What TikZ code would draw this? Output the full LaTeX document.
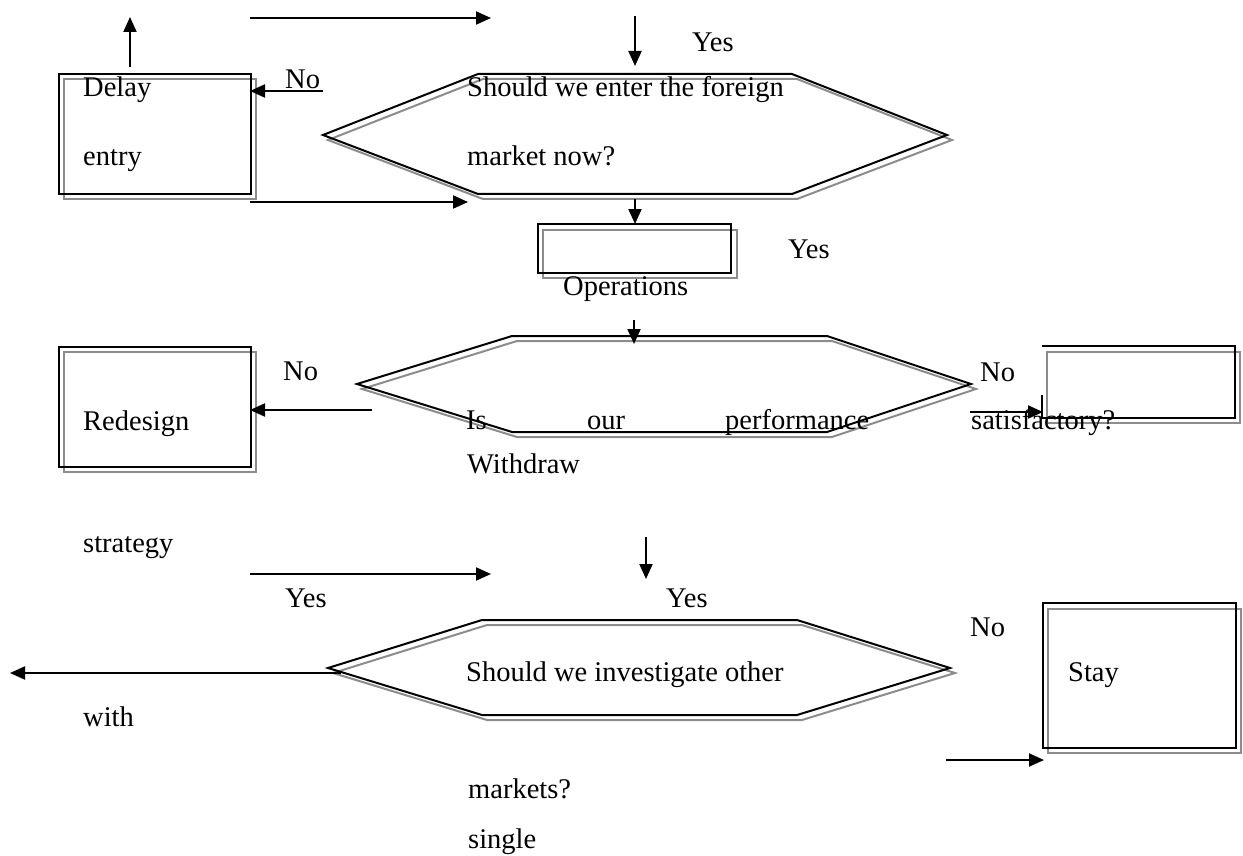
\documentclass[tikz,border=0pt]{standalone}
\usepackage{fontspec}
\setmainfont{Liberation Serif}
\usetikzlibrary{arrows.meta}
\begin{document}
\begin{tikzpicture}[x=1pt,y=-1pt,
  blk/.style={line width=2pt,draw=black},
  shd/.style={line width=2pt,draw=black!45},
  arr/.style={line width=2pt,-{Triangle[length=15pt,width=13pt]}},
  lbl/.style={anchor=base west,inner sep=0pt,font=\fontsize{28.5}{34}\selectfont}]
\useasboundingbox (0,0) rectangle (1243,856);

% ---------- box and hexagon shapes ----------
% Delay box
\draw[shd] (64,79) rectangle (256,199);
\draw[blk] (59,74) rectangle (251,194);
% hexagon 1
\draw[shd] (328,140) -- (483,79) -- (797,79) -- (952,140) -- (797,199) -- (483,199) -- cycle;
\draw[blk] (323,135) -- (478,74) -- (792,74) -- (947,135) -- (792,194) -- (478,194) -- cycle;
% Operations box
\draw[shd] (543,230) rectangle (737,278);
\draw[blk] (538,224) rectangle (731,273);
% Redesign box
\draw[shd] (64,352) rectangle (256,472);
\draw[blk] (59,347) rectangle (251,467);
% hexagon 2
\draw[shd] (362,389) -- (517,341) -- (832,341) -- (976,389) -- (832,437) -- (517,437) -- cycle;
\draw[blk] (357,384) -- (512,336) -- (827,336) -- (971,384) -- (827,432) -- (512,432) -- cycle;
% Withdraw box (partly open)
\draw[shd] (1047,352) rectangle (1240,423);
\draw[blk] (1042,395) -- (1042,418) -- (1235,418) -- (1235,346) -- (1042,346);
% hexagon 3
\draw[shd] (333,673) -- (487,625) -- (802,625) -- (955,673) -- (802,720) -- (487,720) -- cycle;
\draw[blk] (328,668) -- (482,620) -- (797,620) -- (950,668) -- (797,715) -- (482,715) -- cycle;
% Stay box
\draw[shd] (1048,609) rectangle (1241,753);
\draw[blk] (1043,603) rectangle (1236,748);

% ---------- arrow end points ----------
\coordinate (upA) at (130,67);   \coordinate (upB) at (130,17);
\coordinate (topA) at (250,18);  \coordinate (topB) at (491,18);
\coordinate (dnA) at (635,16);   \coordinate (dnB) at (635,66);
\coordinate (noA) at (323,91);   \coordinate (noB) at (250,91);
\coordinate (dlA) at (250,202);  \coordinate (dlB) at (468,202);
\coordinate (opA) at (635,199);  \coordinate (opB) at (635,224);
\coordinate (h2A) at (634,320);  \coordinate (h2B) at (634,344);
\coordinate (rdA) at (372,410);  \coordinate (rdB) at (250,410);
\coordinate (wdA) at (970,412);  \coordinate (wdB) at (1043,412);
\coordinate (stA) at (250,574);  \coordinate (stB) at (491,574);
\coordinate (d3A) at (646,537);  \coordinate (d3B) at (646,579);
\coordinate (lfA) at (341,673);  \coordinate (lfB) at (10,673);
\coordinate (syA) at (946,760);  \coordinate (syB) at (1044,760);

\draw[arr] (upA) -- (upB);
\draw[arr] (topA) -- (topB);
\draw[arr] (dnA) -- (dnB);
\draw[arr] (noA) -- (noB);
\draw[arr] (dlA) -- (dlB);
\draw[arr] (opA) -- (opB);
\draw[arr] (h2A) -- (h2B);
\draw[arr] (rdA) -- (rdB);
\draw[arr] (wdA) -- (wdB);
\draw[arr] (stA) -- (stB);
\draw[arr] (d3A) -- (d3B);
\draw[arr] (lfA) -- (lfB);
\draw[arr] (syA) -- (syB);

% ---------- texts ----------
\node[lbl] (tDelay) at (83,97) {Delay};
\node[lbl] (tEntry) at (83,166) {entry};
\node[lbl] (tNo1) at (285,89) {No};
\node[lbl] (tYes1) at (692,52) {Yes};
\node[lbl] (tQ1a) at (467,97) {Should we enter the foreign};
\node[lbl] (tQ1b) at (467,166) {market now?};
\node[lbl] (tYes2) at (788,258) {Yes};
\node[lbl] (tOps) at (563,295) {Operations};
\node[lbl] (tNo2) at (283,380) {No};
\node[lbl] (tRedesign) at (83,430) {Redesign};
\node[lbl] (tNo3) at (980,381) {No};
\node[lbl] (tIs) at (466,429) {Is};
\node[lbl] (tOur) at (587,429) {our};
\node[lbl] (tPerf) at (725,429) {performance};
\node[lbl] (tSat) at (971,429) {satisfactory?};
\node[lbl] (tWithdraw) at (467,473) {Withdraw};
\node[lbl] (tStrategy) at (83,552) {strategy};
\node[lbl] (tYes3) at (285,607) {Yes};
\node[lbl] (tYes4) at (666,607) {Yes};
\node[lbl] (tNo4) at (970,636) {No};
\node[lbl] (tQ3) at (466,681) {Should we investigate other};
\node[lbl] (tStay) at (1068,681) {Stay};
\node[lbl] (tWith) at (83,726) {with};
\node[lbl] (tMarkets) at (468,798) {markets?};
\node[lbl] (tSingle) at (468,848) {single};
\end{tikzpicture}
\end{document}
